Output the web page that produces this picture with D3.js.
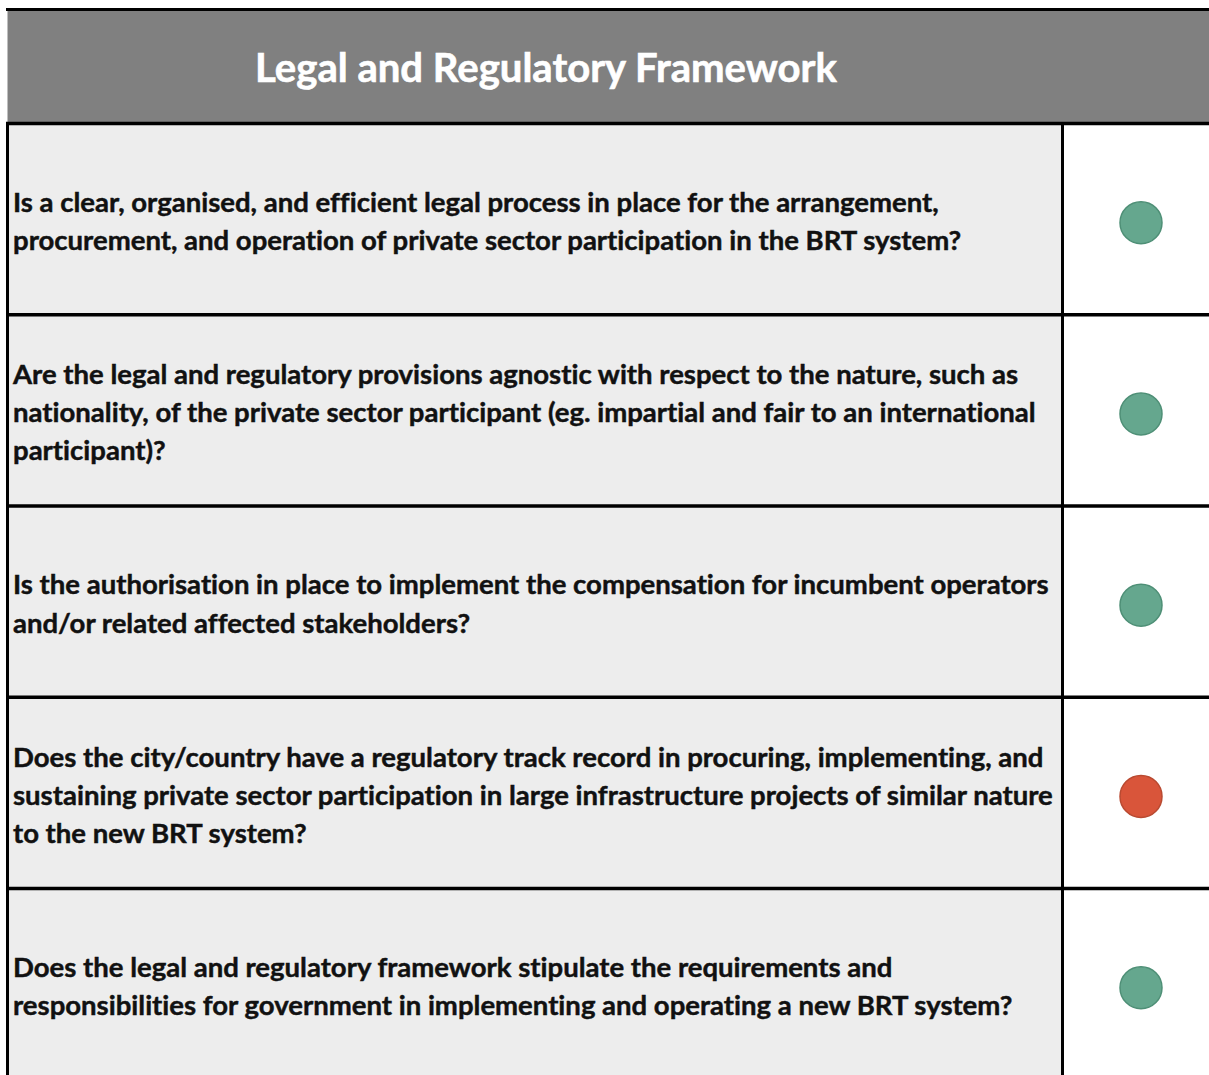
<!DOCTYPE html>
<html>
<head>
<meta charset="utf-8">
<script src="https://cdn.jsdelivr.net/npm/d3@7"></script>
<style>
  html, body { margin: 0; padding: 0; background: #ffffff; overflow: hidden; }
  svg { display: block; }
  text { font-variant-ligatures: none; font-feature-settings: "liga" 0; }
</style>
</head>
<body>
<svg id="chart" width="1209" height="1075"></svg>
<script>
const title = "Legal and Regulatory Framework";
const questions = [
  ["Is a clear, organised, and efficient legal process in place for the arrangement,",
   "procurement, and operation of private sector participation in the BRT system?"],
  ["Are the legal and regulatory provisions agnostic with respect to the nature, such as",
   "nationality, of the private sector participant (eg. impartial and fair to an international",
   "participant)?"],
  ["Is the authorisation in place to implement the compensation for incumbent operators",
   "and/or related affected stakeholders?"],
  ["Does the city/country have a regulatory track record in procuring, implementing, and",
   "sustaining private sector participation in large infrastructure projects of similar nature",
   "to the new BRT system?"],
  ["Does the legal and regulatory framework stipulate the requirements and",
   "responsibilities for government in implementing and operating a new BRT system?"]
];
const status = ["green", "green", "green", "red", "green"];

const colors = {
  green: { fill: "#65a78e", stroke: "#4e8f76" },
  red:   { fill: "#d9553a", stroke: "#b94a31" }
};

const W = 1209, H = 1075;
const svg = d3.select("#chart");
const left = 7.5, divX = 1062.5, headerTop = 9.5, headerBottom = 123.5;

const y = d3.scaleBand()
  .domain(d3.range(questions.length))
  .range([123.5, 123.5 + 5 * 191.25])
  .paddingInner(0).paddingOuter(0);

// header
svg.append("rect").attr("x", left).attr("y", headerTop)
  .attr("width", W - left).attr("height", headerBottom - headerTop)
  .attr("fill", "#808080");

// rows
const rows = svg.selectAll("g.row").data(questions).join("g").attr("class", "row");
rows.append("rect")
  .attr("x", left).attr("y", (d, i) => y(i))
  .attr("width", divX - left).attr("height", y.bandwidth())
  .attr("fill", "#ededed");
rows.append("rect")
  .attr("x", divX).attr("y", (d, i) => y(i))
  .attr("width", W - divX).attr("height", y.bandwidth())
  .attr("fill", "#ffffff");

// measure helper
const fontFam = "Lato, 'Open Sans', sans-serif";
function fitSize(text, target, weight) {
  const t = svg.append("text").attr("font-family", fontFam).attr("font-weight", weight)
    .attr("font-size", 100).text(text);
  const w = t.node().getComputedTextLength();
  t.remove();
  return 100 * target / w;
}
const qSize = fitSize(questions[0][0], 926, 700);
const tSize = fitSize(title, 582, 700);
const lineH = 38.2;

rows.each(function(lines, i) {
  const g = d3.select(this);
  const cy = y(i) + y.bandwidth() / 2 + 2;
  const n = lines.length;
  g.selectAll("text").data(lines).join("text")
    .attr("x", 13)
    .attr("y", (d, k) => cy + (k - (n - 1) / 2) * lineH + qSize * 0.36)
    .attr("font-family", fontFam).attr("font-weight", 700)
    .attr("font-size", qSize).attr("fill", "#111111")
    .attr("stroke", "#111111").attr("stroke-width", 0.45)
    .text(d => d);
  const c = colors[status[i]];
  g.append("circle")
    .attr("cx", 1141).attr("cy", y(i) + y.bandwidth() / 2 + 3.5)
    .attr("r", 21).attr("fill", c.fill).attr("stroke", c.stroke).attr("stroke-width", 1.5);
});

// title
svg.append("text").attr("x", 546).attr("y", 68 + tSize * 0.36)
  .attr("text-anchor", "middle")
  .attr("font-family", fontFam).attr("font-weight", 700)
  .attr("font-size", tSize).attr("fill", "#ffffff")
  .attr("stroke", "#ffffff").attr("stroke-width", 0.6)
  .text(title);

// grid lines
const lw = 3.5;
svg.append("line").attr("x1", left - 1.5).attr("x2", W).attr("y1", headerTop).attr("y2", headerTop)
  .attr("stroke", "#000").attr("stroke-width", 3);
svg.append("line").attr("x1", left - 1.5).attr("x2", W).attr("y1", headerBottom).attr("y2", headerBottom)
  .attr("stroke", "#000").attr("stroke-width", lw);
svg.selectAll("line.sep").data(d3.range(1, questions.length)).join("line")
  .attr("class", "sep")
  .attr("x1", left).attr("x2", W).attr("y1", d => y(d)).attr("y2", d => y(d))
  .attr("stroke", "#000").attr("stroke-width", lw);
svg.append("line").attr("x1", left).attr("x2", left).attr("y1", headerBottom).attr("y2", H)
  .attr("stroke", "#000").attr("stroke-width", 3);
svg.append("line").attr("x1", divX).attr("x2", divX).attr("y1", headerBottom).attr("y2", H)
  .attr("stroke", "#000").attr("stroke-width", 3);
</script>
</body>
</html>
